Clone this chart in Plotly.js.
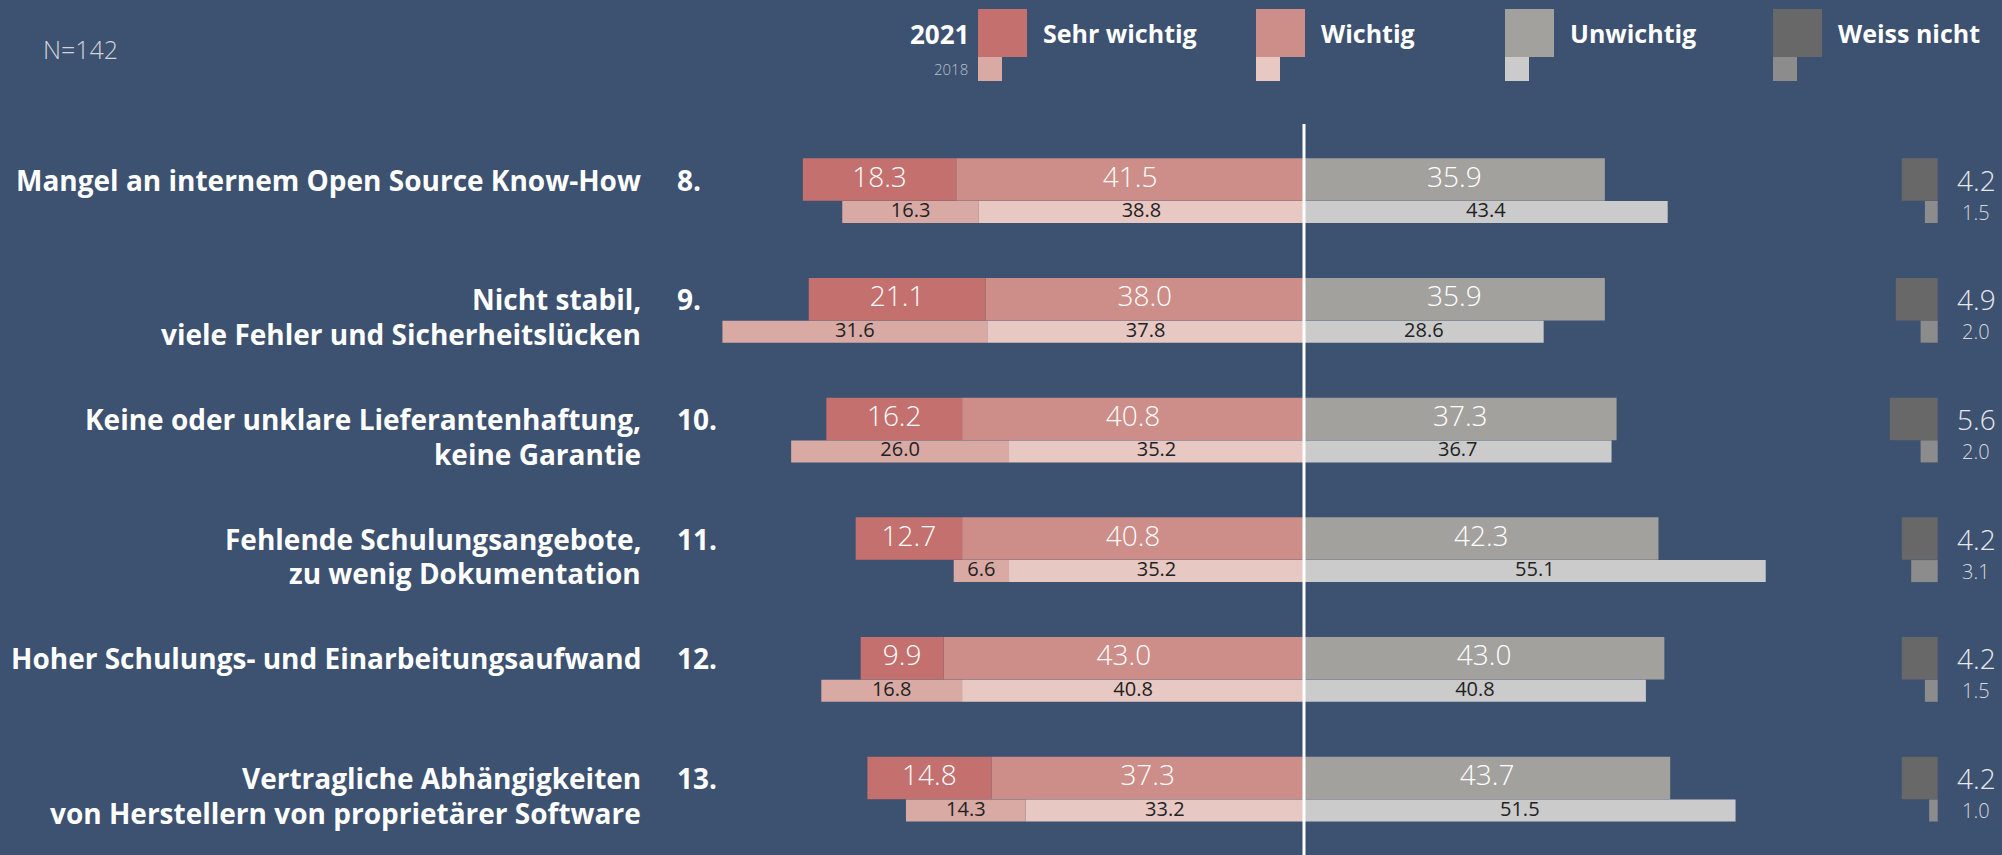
<!DOCTYPE html>
<html><head><meta charset="utf-8">
<script src="https://cdn.plot.ly/plotly-3.0.1.min.js"></script>
<style>html,body{margin:0;padding:0;background:#3d5170;}#chart{width:2002px;height:855px;}</style>
</head><body><div id="chart"></div>
<script>
// ---- data ----
const labelLine1 = ["Mangel an internem Open Source Know-How", "Nicht stabil,", "Keine oder unklare Lieferantenhaftung,", "Fehlende Schulungsangebote,", "Hoher Schulungs- und Einarbeitungsaufwand", "Vertragliche Abhängigkeiten"];
const labelLine2 = ["", "viele Fehler und Sicherheitslücken", "keine Garantie", "zu wenig Dokumentation", "", "von Herstellern von proprietärer Software"];
const ranks = ["8.", "9.", "10.", "11.", "12.", "13."];
const seriesNames = ["Sehr wichtig", "Wichtig", "Unwichtig", "Weiss nicht"];
const sehr2021 = [18.3, 21.1, 16.2, 12.7, 9.9, 14.8];
const wichtig2021 = [41.5, 38.0, 40.8, 40.8, 43.0, 37.3];
const unwichtig2021 = [35.9, 35.9, 37.3, 42.3, 43.0, 43.7];
const weiss2021 = [4.2, 4.9, 5.6, 4.2, 4.2, 4.2];
const sehr2018 = [16.3, 31.6, 26.0, 6.6, 16.8, 14.3];
const wichtig2018 = [38.8, 37.8, 35.2, 35.2, 40.8, 33.2];
const unwichtig2018 = [43.4, 28.6, 36.7, 55.1, 40.8, 51.5];
const weiss2018 = [1.5, 2.0, 2.0, 3.1, 1.5, 1.0];
const colors2021 = ["#c4706e", "#cd8d88", "#a3a19e", "#686868"];
const colors2018 = ["#d9aaa4", "#e8c8c3", "#cbcbcb", "#8c8c8c"];
const nText = "N=142";

// ---- layout helpers ----
const W = 2002, H = 855;
const FONT = "'Open Sans', 'Noto Sans', sans-serif";
const rows = labelLine1.map((_, i) => i);
const OFF18 = 0.2715;
const rows18 = rows.map(r => r + OFF18);
const W21 = 0.355, W18 = 0.184;
const px = v => v / W;
const py = v => 1 - v / H;

function bar(x, base, y, width, color, axis) {
  return {type: 'bar', orientation: 'h', x: x, base: base, y: y, width: width,
    marker: {color: color, line: {width: 0}}, xaxis: axis || 'x', yaxis: 'y', hoverinfo: 'skip', showlegend: false};
}
function txt(x, y, vals, size, color, weight) {
  return {type: 'scatter', mode: 'text', x: x, y: y, text: vals.map(v => v.toFixed(1)),
    textfont: {family: FONT, size: size, color: color, weight: weight}, textposition: 'middle center',
    xaxis: 'x', yaxis: 'y', hoverinfo: 'skip', showlegend: false, cliponaxis: false};
}

const traces = [
  bar(wichtig2021.map(v => -v), wichtig2021.map(() => 0), rows, W21, colors2021[1]),
  bar(sehr2021.map(v => -v), wichtig2021.map(v => -v), rows, W21, colors2021[0]),
  bar(unwichtig2021, unwichtig2021.map(() => 0), rows, W21, colors2021[2]),
  bar(wichtig2018.map(v => -v), wichtig2018.map(() => 0), rows18, W18, colors2018[1]),
  bar(sehr2018.map(v => -v), wichtig2018.map(v => -v), rows18, W18, colors2018[0]),
  bar(unwichtig2018, unwichtig2018.map(() => 0), rows18, W18, colors2018[2]),
  bar(weiss2021, weiss2021.map(() => 0), rows, W21, colors2021[3], 'x2'),
  bar(weiss2018, weiss2018.map(() => 0), rows18, W18, colors2018[3], 'x2'),
  txt(sehr2021.map((v, i) => -(wichtig2021[i] + v / 2)), rows, sehr2021, 28, '#ffffff', 300),
  txt(wichtig2021.map(v => -v / 2), rows, wichtig2021, 28, '#ffffff', 300),
  txt(unwichtig2021.map(v => v / 2), rows, unwichtig2021, 28, '#ffffff', 300),
  txt(sehr2018.map((v, i) => -(wichtig2018[i] + v / 2)), rows18, sehr2018, 20, '#222222', 400),
  txt(wichtig2018.map(v => -v / 2), rows18, wichtig2018, 20, '#222222', 400),
  txt(unwichtig2018.map(v => v / 2), rows18, unwichtig2018, 20, '#222222', 400),
];

const annotations = [];
const LBL = {family: FONT, size: 28, color: '#ffffff', weight: 700};
rows.forEach(i => {
  annotations.push({xref: 'paper', yref: 'y', x: px(643), y: i, xanchor: 'right', yanchor: 'middle',
    text: labelLine1[i], showarrow: false, font: LBL});
  if (labelLine2[i]) annotations.push({xref: 'paper', yref: 'y', x: px(643), y: i + OFF18 + 0.02, xanchor: 'right', yanchor: 'middle',
    text: labelLine2[i], showarrow: false, font: LBL});
  annotations.push({xref: 'paper', yref: 'y', x: px(675), y: i, xanchor: 'left', yanchor: 'middle',
    text: ranks[i], showarrow: false, font: LBL});
  annotations.push({xref: 'paper', yref: 'y', x: px(1976), y: i, xanchor: 'center', yanchor: 'middle',
    text: weiss2021[i].toFixed(1), showarrow: false, font: {family: FONT, size: 28, color: '#e8e8ec', weight: 300}});
  annotations.push({xref: 'paper', yref: 'y', x: px(1976), y: i + OFF18, xanchor: 'center', yanchor: 'middle',
    text: weiss2018[i].toFixed(1), showarrow: false, font: {family: FONT, size: 20, color: '#d6d8de', weight: 300}});
});
annotations.push({xref: 'paper', yref: 'paper', x: px(41), y: py(49), xanchor: 'left', yanchor: 'middle',
  text: nText, showarrow: false, font: {family: FONT, size: 25, color: '#d0d4dc', weight: 300}});
annotations.push({xref: 'paper', yref: 'paper', x: px(971), y: py(34), xanchor: 'right', yanchor: 'middle',
  text: '2021', showarrow: false, font: {family: FONT, size: 26, color: '#ffffff', weight: 700}});
annotations.push({xref: 'paper', yref: 'paper', x: px(970), y: py(69), xanchor: 'right', yanchor: 'middle',
  text: '2018', showarrow: false, font: {family: FONT, size: 15, color: '#b8c0cf', weight: 300}});

const legX = [978, 1256, 1505, 1773];
const shapes = [];
seriesNames.forEach((n, i) => {
  shapes.push({type: 'rect', xref: 'paper', yref: 'paper', x0: px(legX[i]), x1: px(legX[i] + 49), y0: py(57), y1: py(9),
    fillcolor: colors2021[i], line: {width: 0}});
  shapes.push({type: 'rect', xref: 'paper', yref: 'paper', x0: px(legX[i]), x1: px(legX[i] + 24), y0: py(81), y1: py(57),
    fillcolor: colors2018[i], line: {width: 0}});
  annotations.push({xref: 'paper', yref: 'paper', x: px(legX[i] + 63), y: py(33), xanchor: 'left', yanchor: 'middle',
    text: n, showarrow: false, font: {family: FONT, size: 25, color: '#ffffff', weight: 700}});
});
shapes.push({type: 'line', xref: 'x', yref: 'y', x0: 0, x1: 0, y0: -0.464, y1: 5.7, line: {color: '#ffffff', width: 3}, layer: 'above'});

const SCALE = 8.38, CX = 1304;
const SCALE2 = 8.55, CX2 = 1937.7;
const layout = {
  width: W, height: H,
  margin: {l: 0, r: 0, t: 0, b: 0, pad: 0},
  paper_bgcolor: '#3d5170', plot_bgcolor: '#3d5170',
  barmode: 'overlay',
  showlegend: false,
  xaxis: {range: [-CX / SCALE, (W - CX) / SCALE], visible: false, fixedrange: true},
  xaxis2: {range: [CX2 / SCALE2, -(W - CX2) / SCALE2], overlaying: 'x', anchor: 'y', visible: false, fixedrange: true},
  yaxis: {range: [(H - 179.5) / 119.7, -179.5 / 119.7], visible: false, fixedrange: true},
  annotations: annotations,
  shapes: shapes
};
Plotly.newPlot('chart', traces, layout, {staticPlot: true, displayModeBar: false});
</script></body></html>
